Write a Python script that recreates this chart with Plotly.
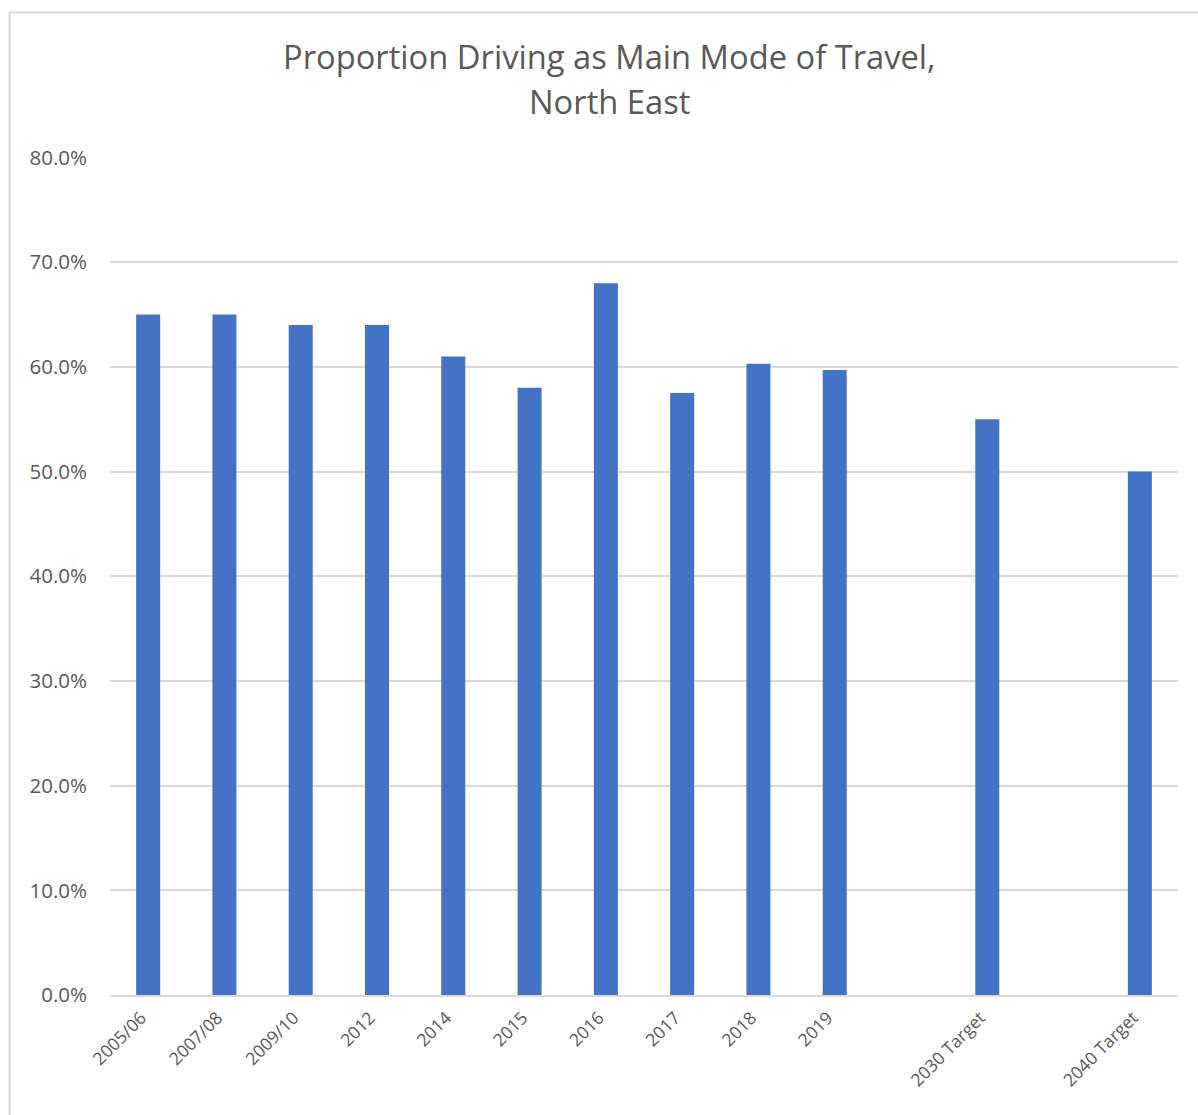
import plotly.graph_objects as go

# Survey periods and target years; blank slots keep the gaps before each target
categories = ["2005/06", "2007/08", "2009/10", "2012", "2014", "2015", "2016",
              "2017", "2018", "2019", "", "2030 Target", "", "2040 Target"]
# Share of people driving as main mode (%), None where a slot is empty
values = [65.0, 65.0, 64.0, 64.0, 61.0, 58.0, 68.0,
          57.5, 60.3, 59.7, None, 55.0, None, 50.0]
y_ticks = [0, 10, 20, 30, 40, 50, 60, 70, 80]
y_tick_labels = [f"{v:.1f}%" for v in y_ticks]

positions = list(range(len(categories)))
bar_x = [p for p, v in zip(positions, values) if v is not None]
bar_y = [v for v in values if v is not None]
tick_pos = [p for p, c in zip(positions, categories) if c]
tick_txt = [c for c in categories if c]

TEXT = "#595959"
GRID = "#d9d9d9"
FONT = "Open Sans"

fig = go.Figure(go.Bar(
    x=bar_x, y=bar_y, width=0.315,
    marker=dict(color="#4472c4", line=dict(width=0)),
    hoverinfo="skip",
))

fig.update_layout(
    width=1198, height=1115,
    margin=dict(l=110, r=20, t=157, b=120),
    paper_bgcolor="white", plot_bgcolor="white",
    showlegend=False,
    font=dict(family=FONT, color=TEXT),
    xaxis=dict(
        range=[-0.5, len(categories) - 0.5],
        tickmode="array", tickvals=tick_pos, ticktext=tick_txt,
        tickangle=-45, tickfont=dict(size=17.5, color=TEXT),
        ticklabelshift=-7, ticklabelstandoff=4,
        showgrid=False, zeroline=False,
        showline=True, linecolor=GRID, linewidth=1.5,
        ticks="", ticklen=0,
    ),
    yaxis=dict(
        range=[0, 80.05],
        tickmode="array", tickvals=y_ticks, ticktext=y_tick_labels,
        tickfont=dict(size=20.5, color=TEXT),
        showgrid=True, gridcolor=GRID, gridwidth=1.5,
        zeroline=False, showline=False, ticks="",
        ticklabelstandoff=22,
    ),
    annotations=[
        dict(text="Proportion Driving as Main Mode of Travel,", x=0.5, y=57,
             xref="paper", yref="paper", showarrow=False,
             font=dict(size=32.7, color=TEXT, family=FONT)),
        dict(text="North East", x=0.5, y=102,
             xref="paper", yref="paper", showarrow=False,
             font=dict(size=32.7, color=TEXT, family=FONT)),
    ],
)

# convert pixel heights of title lines into paper coordinates
plot_top, plot_h = 157, 1115 - 157 - 120
plot_w = 1198 - 110 - 20
for ann in fig.layout.annotations:
    ann.y = (plot_top + plot_h - ann.y) / plot_h
    ann.x = (609 - 110) / plot_w
    ann.yanchor = "middle"

# light frame along the top and left edges of the chart
def px_x(px):
    return (px - 110) / plot_w
def px_y(py):
    return (plot_top + plot_h - py) / plot_h

fig.add_shape(type="line", xref="paper", yref="paper",
              x0=px_x(9), x1=px_x(1198), y0=px_y(12.5), y1=px_y(12.5),
              line=dict(color=GRID, width=2))
fig.add_shape(type="line", xref="paper", yref="paper",
              x0=px_x(9.5), x1=px_x(9.5), y0=px_y(12), y1=px_y(1115),
              line=dict(color=GRID, width=2))

fig.write_html("out.html")
